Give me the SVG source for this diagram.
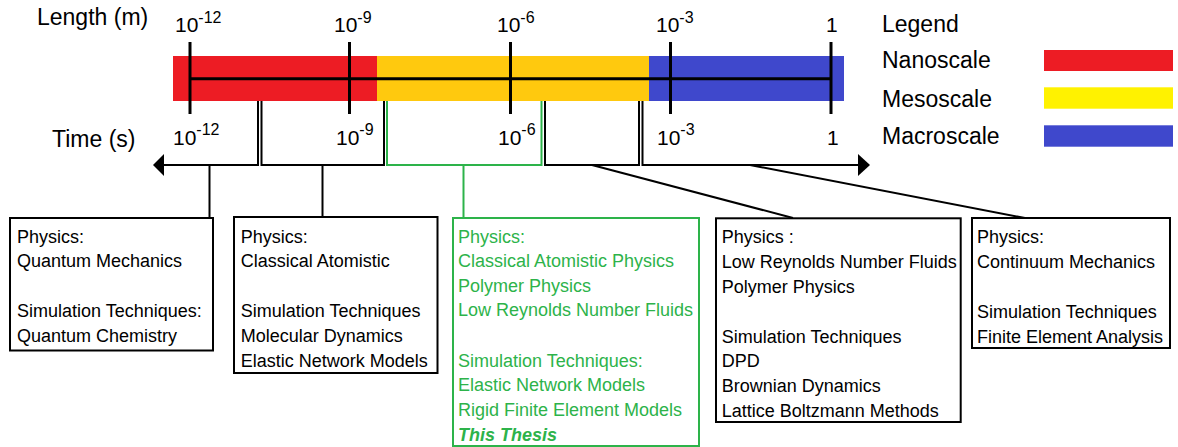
<svg xmlns="http://www.w3.org/2000/svg" width="1178" height="447" viewBox="0 0 1178 447">
<style>
text{font-family:"Liberation Sans",Arial,sans-serif;fill:#000}
.ax{font-size:23px}
.tk{font-size:21px}
.sup{font-size:16px}
.bx{font-size:18px}
.g text{fill:#2DB34A}
.box{fill:#fff;stroke:#000;stroke-width:2}
.gbox{fill:#fff;stroke:#2DB34A;stroke-width:2}
.ln{fill:none;stroke:#000;stroke-width:2}
.gln{fill:none;stroke:#2DB34A;stroke-width:2}
.thick{fill:none;stroke:#000;stroke-width:3}
</style>
<g id="scale-bar">
<rect x="173" y="56" width="204" height="45" fill="#ED1C24"/>
<rect x="377" y="56" width="272" height="45" fill="#FFC90E"/>
<rect x="649" y="56" width="195" height="45" fill="#3F48CC"/>
<line class="thick" x1="190" y1="78.7" x2="831" y2="78.7"/>
<line class="thick" x1="190" y1="42" x2="190" y2="114"/>
<line class="thick" x1="349.5" y1="42" x2="349.5" y2="114"/>
<line class="thick" x1="510.5" y1="42" x2="510.5" y2="114"/>
<line class="thick" x1="670.5" y1="42" x2="670.5" y2="114"/>
<line class="thick" x1="831" y1="42" x2="831" y2="114"/>
</g>
<g id="axis-labels">
<text class="ax" x="37" y="25">Length (m)</text>
<text class="ax" x="52" y="146.5">Time (s)</text>
<text class="tk" x="175" y="31.7">10<tspan class="sup" dy="-9">-12</tspan></text>
<text class="tk" x="334" y="31.7">10<tspan class="sup" dy="-9">-9</tspan></text>
<text class="tk" x="497" y="31.7">10<tspan class="sup" dy="-9">-6</tspan></text>
<text class="tk" x="656" y="31.7">10<tspan class="sup" dy="-9">-3</tspan></text>
<text class="tk" x="826" y="31.7">1</text>
<text class="tk" x="173" y="145">10<tspan class="sup" dy="-10">-12</tspan></text>
<text class="tk" x="336" y="145">10<tspan class="sup" dy="-10">-9</tspan></text>
<text class="tk" x="498" y="145">10<tspan class="sup" dy="-10">-6</tspan></text>
<text class="tk" x="657" y="145">10<tspan class="sup" dy="-10">-3</tspan></text>
<text class="tk" x="827" y="145">1</text>
</g>
<g id="legend">
<text class="ax" x="882" y="31.7">Legend</text>
<text class="ax" x="882" y="68.3">Nanoscale</text>
<text class="ax" x="882" y="106.5">Mesoscale</text>
<text class="ax" x="882" y="144">Macroscale</text>
<rect x="1044" y="50" width="129" height="21" fill="#ED1C24"/>
<rect x="1044" y="87.3" width="129" height="21.4" fill="#FFF200"/>
<rect x="1044" y="125.3" width="129" height="21.4" fill="#3F48CC"/>
</g>
<g id="connectors">
<polyline class="ln" points="162,165 258,165 258,101"/>
<polygon points="153,165 164,154 164,176" fill="#000"/>
<polyline class="ln" points="261.5,101 261.5,165 384,165 384,101"/>
<polyline class="gln" points="387,101 387,165 541.5,165 541.5,101"/>
<polyline class="ln" points="545,101 545,165 639,165 639,101"/>
<polyline class="ln" points="642.5,101 642.5,165 860,165"/>
<polygon points="870,165 858,154 858,176" fill="#000"/>
<line class="ln" x1="209.5" y1="165" x2="209.5" y2="218"/>
<line class="ln" x1="322.5" y1="165" x2="322.5" y2="217"/>
<line class="gln" x1="463.5" y1="165" x2="463.5" y2="218"/>
<line class="ln" x1="592" y1="165" x2="793" y2="218"/>
<line class="ln" x1="750" y1="165" x2="1025" y2="218"/>
</g>
<g id="box-nanoscale-qm">
<rect class="box" x="10" y="218" width="203" height="132.5"/>
<text class="bx" x="17" y="242.7">Physics:</text>
<text class="bx" x="17" y="267">Quantum Mechanics</text>
<text class="bx" x="17" y="316.7">Simulation Techniques:</text>
<text class="bx" x="17" y="341.5">Quantum Chemistry</text>
</g>
<g id="box-nanoscale-ca">
<rect class="box" x="234" y="217" width="203.5" height="156"/>
<text class="bx" x="240.7" y="242.7">Physics:</text>
<text class="bx" x="240.7" y="267">Classical Atomistic</text>
<text class="bx" x="240.7" y="316.7">Simulation Techniques</text>
<text class="bx" x="240.7" y="341.5">Molecular Dynamics</text>
<text class="bx" x="240.7" y="366.5">Elastic Network Models</text>
</g>
<g id="box-mesoscale-thesis" class="g">
<rect class="gbox" x="453" y="218" width="246" height="228"/>
<text class="bx" x="458" y="242.7">Physics:</text>
<text class="bx" x="458" y="267">Classical Atomistic Physics</text>
<text class="bx" x="458" y="291.7">Polymer Physics</text>
<text class="bx" x="458" y="316.2">Low Reynolds Number Fluids</text>
<text class="bx" x="458" y="366.7">Simulation Techniques:</text>
<text class="bx" x="458" y="391">Elastic Network Models</text>
<text class="bx" x="458" y="416">Rigid Finite Element Models</text>
<text class="bx" x="458" y="440.5" font-weight="bold" font-style="italic">This Thesis</text>
</g>
<g id="box-mesoscale-fluids">
<rect class="box" x="716" y="218.3" width="244.7" height="203.7"/>
<text class="bx" x="721.7" y="243.3">Physics :</text>
<text class="bx" x="721.7" y="268.3">Low Reynolds Number Fluids</text>
<text class="bx" x="721.7" y="293.3">Polymer Physics</text>
<text class="bx" x="721.7" y="342.7">Simulation Techniques</text>
<text class="bx" x="721.7" y="367.3">DPD</text>
<text class="bx" x="721.7" y="392.3">Brownian Dynamics</text>
<text class="bx" x="721.7" y="416.7">Lattice Boltzmann Methods</text>
</g>
<g id="box-macroscale">
<rect class="box" x="972" y="218" width="198" height="130"/>
<text class="bx" x="977" y="243.3">Physics:</text>
<text class="bx" x="977" y="268.3">Continuum Mechanics</text>
<text class="bx" x="977" y="318.3">Simulation Techniques</text>
<text class="bx" x="977" y="342.7">Finite Element Analysis</text>
</g>
</svg>
